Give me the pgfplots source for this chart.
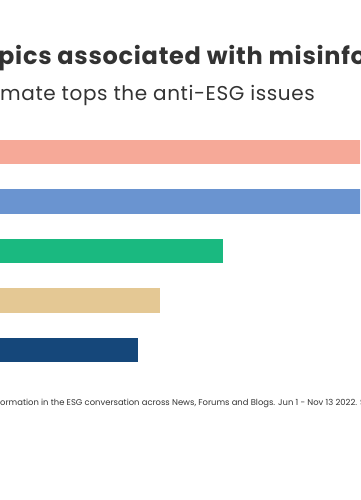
\documentclass[border=0pt]{standalone}
\usepackage{fontspec}
\setmainfont{Poppins}[Ligatures=NoCommon]
\usepackage{pgfplots}
\pgfplotsset{compat=1.18}
\definecolor{txt}{HTML}{333333}
\definecolor{cA}{HTML}{F6A998}
\definecolor{cB}{HTML}{6A94D0}
\definecolor{cC}{HTML}{1AB980}
\definecolor{cD}{HTML}{E4C894}
\definecolor{cE}{HTML}{15477A}
\begin{document}
\begin{tikzpicture}[x=1pt,y=1pt]
\useasboundingbox (0,0) rectangle (360,500);
\clip (0,0) rectangle (360,500);
\fill[white] (0,0) rectangle (360,500);
\begin{axis}[
  at={(0,0)}, anchor=south west,
  width=360pt, height=500pt, scale only axis,
  xbar, bar width=0.495, bar shift=0pt,
  xmin=0, xmax=360,
  ymin=-3.03, ymax=7.07,
  axis lines=none,
  ticks=none,
]
\addplot[fill=cA, draw=none] coordinates {(540,4)};
\addplot[fill=cB, draw=none] coordinates {(480,3)};
\addplot[fill=cC, draw=none] coordinates {(223,2)};
\addplot[fill=cD, draw=none] coordinates {(160,1)};
\addplot[fill=cE, draw=none] coordinates {(138,0)};
\end{axis}
\node[anchor=base west, inner sep=0, text=txt, font=\fontsize{24}{28}\selectfont\bfseries\addfontfeatures{LetterSpace=3}] at (-2,435) {\llap{Top to}pics associated with misinformation};
\node[anchor=base west, inner sep=0, text=txt, font=\fontsize{20}{24}\selectfont\addfontfeatures{LetterSpace=3}] at (0,399) {\llap{Cli}mate tops the anti-ESG issues};
\node[anchor=base west, inner sep=0, text=txt, font=\fontsize{8.4}{10}\selectfont] at (0,94) {\llap{Misinf}ormation in the ESG conversation across News, Forums and Blogs. Jun 1 - Nov 13 2022. Source: Talkwalker};
\end{tikzpicture}
\end{document}
